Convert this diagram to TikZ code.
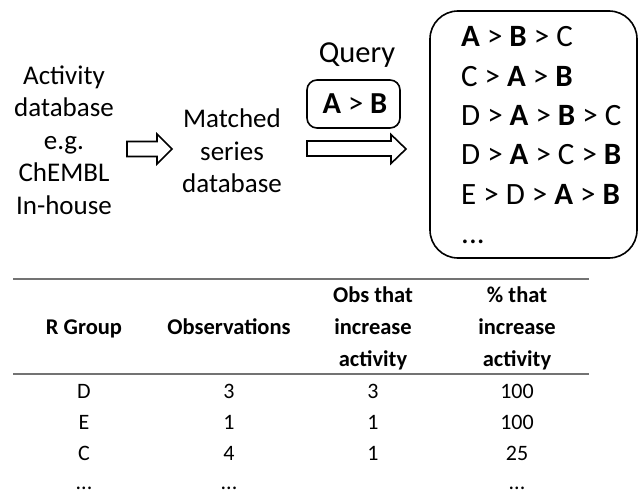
\documentclass[tikz,border=0pt]{standalone}
\usepackage{fontspec}
\setmainfont{Carlito}
\begin{document}
\begin{tikzpicture}[x=1pt,y=-1pt,
  lefttxt/.style={font=\fontsize{27}{32.5}\selectfont, align=center, inner sep=0pt},
  listtxt/.style={font=\fontsize{31}{36}\selectfont, anchor=base west, inner sep=0pt},
  querytxt/.style={font=\fontsize{30.5}{36}\selectfont, inner sep=0pt},
  hdr/.style={font=\fontsize{22.5}{32}\selectfont\bfseries, align=center, inner sep=0pt},
  cell/.style={font=\fontsize{22}{26}\selectfont, anchor=base, inner sep=0pt},
  blockarrow/.style={draw=black, line width=1.6pt, fill=white, line join=miter},
  tablerule/.style={draw=black!55, line width=1.5pt},
  roundbox/.style={draw=black, line width=1.6pt, inner sep=0pt}
]
\useasboundingbox (0,0) rectangle (639,495);

% left texts
\node[lefttxt] (activity) at (64,140) {Activity\\database\\e.g.\\ChEMBL\\In-house};
\node[lefttxt] (matched) at (232,151) {Matched\\series\\database};

% block arrows
\draw[blockarrow] (127,141.5) -- (157,141.5) -- (157,134) -- (172,149) -- (157,164) -- (157,156.5) -- (127,156.5) -- cycle;
\draw[blockarrow] (307,141) -- (391,141) -- (391,134.5) -- (406,149) -- (391,163.5) -- (391,156) -- (307,156) -- cycle;

% query
\node[querytxt] (querylabel) at (357,55) {Query};
\node[roundbox, rounded corners=10pt, minimum width=93pt, minimum height=48pt] (querybox) at (353.5,104) {};
\node[querytxt] (querytext) at (355,104) {\textbf{A} > \textbf{B}};

% result list
\node[roundbox, rounded corners=28pt, minimum width=207pt, minimum height=247pt] (listbox) at (533.5,134.5) {};
\node[listtxt] (l1) at (461,47) {\textbf{A} > \textbf{B} > C};
\node[listtxt] (l2) at (461,86.25) {C > \textbf{A} > \textbf{B}};
\node[listtxt] (l3) at (461,125.5) {D > \textbf{A} > \textbf{B} > C};
\node[listtxt] (l4) at (461,164.75) {D > \textbf{A} > C > \textbf{B}};
\node[listtxt] (l5) at (461,204) {E > D > \textbf{A} > \textbf{B}};
\node[listtxt] (l6) at (461,243) {...};

% table
\coordinate (r1a) at (13,279);
\coordinate (r1b) at (589,279);
\coordinate (r2a) at (13,374);
\coordinate (r2b) at (589,374);
\draw[tablerule] (r1a) -- (r1b);
\draw[tablerule] (r2a) -- (r2b);

\node[hdr, anchor=base] (h1) at (84,334) {R Group};
\node[hdr, anchor=base] (h2) at (229,334) {Observations};
\node[hdr] (h3) at (373,328) {Obs that\\increase\\activity};
\node[hdr] (h4) at (517,328) {\% that\\increase\\activity};

\node[cell] (c11) at (84,398) {D};
\node[cell] (c12) at (229,398) {3};
\node[cell] (c13) at (373,398) {3};
\node[cell] (c14) at (517,398) {100};
\node[cell] (c21) at (84,429) {E};
\node[cell] (c22) at (229,429) {1};
\node[cell] (c23) at (373,429) {1};
\node[cell] (c24) at (517,429) {100};
\node[cell] (c31) at (84,460) {C};
\node[cell] (c32) at (229,460) {4};
\node[cell] (c33) at (373,460) {1};
\node[cell] (c34) at (517,460) {25};
\node[cell] (c41) at (84,489) {...};
\node[cell] (c42) at (229,489) {...};
\node[cell] (c44) at (517,489) {...};
\end{tikzpicture}
\end{document}
